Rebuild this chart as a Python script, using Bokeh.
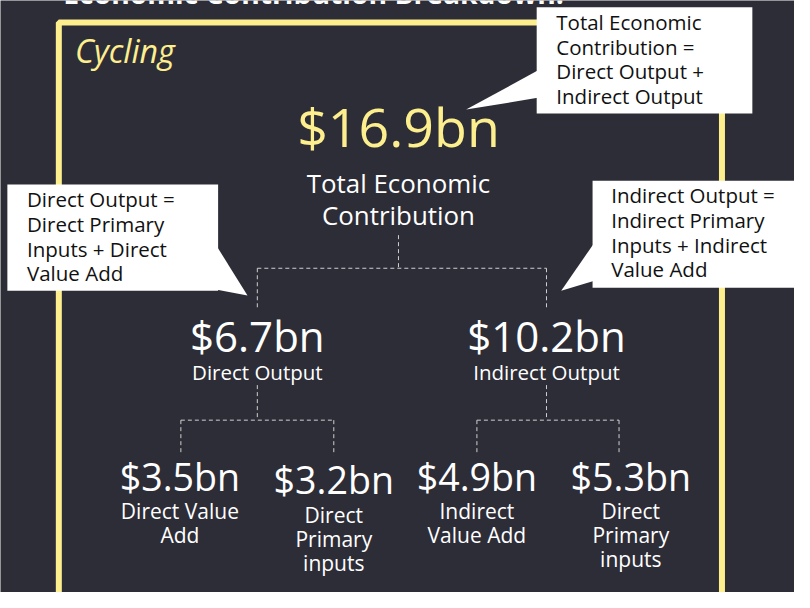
from bokeh.plotting import figure
from bokeh.models import Range1d
from bokeh.embed import file_html
from bokeh.resources import INLINE
from bokeh.core.properties import value

# ---------------- data ----------------
title_text = "Economic Contribution Breakdown:"
sector = "Cycling"
total_value = 16.9
total_label = ["Total Economic", "Contribution"]
output_values = [6.7, 10.2]
output_labels = ["Direct Output", "Indirect Output"]
component_values = [3.5, 3.2, 4.9, 5.3]
component_labels = [
    ["Direct Value", "Add"],
    ["Direct", "Primary", "inputs"],
    ["Indirect", "Value Add"],
    ["Direct", "Primary", "inputs"],
]
callout_total = ["Total Economic", "Contribution =", "Direct Output +", "Indirect Output"]
callout_direct = ["Direct Output =", "Direct Primary", "Inputs + Direct", "Value Add"]
callout_indirect = ["Indirect Output =", "Indirect Primary", "Inputs + Indirect", "Value Add"]


def fmt(v):
    return f"${v:.1f}bn"


# ---------------- layout / style ----------------
BG = "#2D2D37"
YELLOW = "#FDEE8E"
WHITE = "#FFFFFF"
DASH = "#D0D0D0"
INK = "#111111"
FONT = "Open Sans"
W, H = 794, 592
SCALE = 0.977          # font scale (figure is slightly smaller than reference)
BASE_SHIFT = 0.42      # empirical baseline correction (em)

root_x = 406
out_x = [262, 557]
comp_line_x = [184, 340, 486, 631]
comp_text_x = [183, 340, 486, 643]
comp_val_y = [505, 508, 505, 505]
comp_lab_y = [533, 537, 533, 533]

p = figure(width=W, height=H, x_range=Range1d(0, 810), y_range=Range1d(608, 0),
           output_backend="svg", toolbar_location=None, min_border=0)
p.axis.visible = False
p.grid.visible = False
p.outline_line_color = None
p.background_fill_color = BG
p.border_fill_color = BG


def txt(xs, ys, texts, size, color=WHITE, align="center", style="normal", font=FONT):
    ys2 = [y - BASE_SHIFT * size for y in ys]
    p.text(x=xs, y=ys2, text=texts, text_font=value(font),
           text_font_size=f"{size * SCALE:.1f}px",
           text_color=color, text_align=align, text_baseline="alphabetic",
           text_font_style=style)


# title (cut off at top in original)
txt([64], [4], [title_text], 29, align="left", style="bold")

# yellow frame
p.line(x=[59.5, 59.5, 736, 736], y=[620, 22.5, 22.5, 620], line_color=YELLOW, line_width=6)

# sector label
txt([76], [65], [sector], 33, color=YELLOW, align="left", style="italic")

# connectors
xs, ys = [], []
xs.append([root_x, root_x]); ys.append([241, 275])
xs.append([out_x[0], out_x[1]]); ys.append([275, 275])
for x in out_x:
    xs.append([x, x]); ys.append([275, 318])
    xs.append([x, x]); ys.append([395, 431])
for i in range(2):
    a, b = comp_line_x[2 * i], comp_line_x[2 * i + 1]
    xs.append([a, b]); ys.append([431, 431])
    for x in (a, b):
        xs.append([x, x]); ys.append([431, 467])
p.multi_line(xs=xs, ys=ys, line_color=DASH, line_width=1, line_dash="4 3")

# total
txt([root_x], [153], [fmt(total_value)], 55, color=YELLOW)
txt([root_x, root_x], [199, 231], total_label, 26.5)

# outputs
txt(out_x, [362, 362], [fmt(v) for v in output_values], 43)
txt(out_x, [390, 390], output_labels, 21)

# components
txt(comp_text_x, comp_val_y, [fmt(v) for v in component_values], 38.5)
lx, ly, lt = [], [], []
for x, y0, lines in zip(comp_text_x, comp_lab_y, component_labels):
    for k, line in enumerate(lines):
        lx.append(x); ly.append(y0 + 25 * k); lt.append(line)
txt(lx, ly, lt, 21.5)


# callouts
def callout(box, tri, tx, ty0, lines):
    l, r, t, b = box
    p.quad(left=[l], right=[r], top=[t], bottom=[b], fill_color=WHITE, line_color=None)
    p.patch(x=[q[0] for q in tri], y=[q[1] for q in tri], fill_color=WHITE, line_color=None)
    txt([tx] * len(lines), [ty0 + 25.3 * k for k in range(len(lines))], lines, 21,
        color=INK, align="left")


callout((547, 767, 7, 116), [(548, 72), (548, 100), (475, 112)], 567, 31, callout_total)
callout((7, 222, 189, 298), [(221, 253), (221, 297), (252, 303)], 27, 213, callout_direct)
callout((604, 812, 185, 295), [(605, 250), (605, 288), (572, 298)], 623, 209, callout_indirect)

open("out.html", "w").write(file_html(p, INLINE))
